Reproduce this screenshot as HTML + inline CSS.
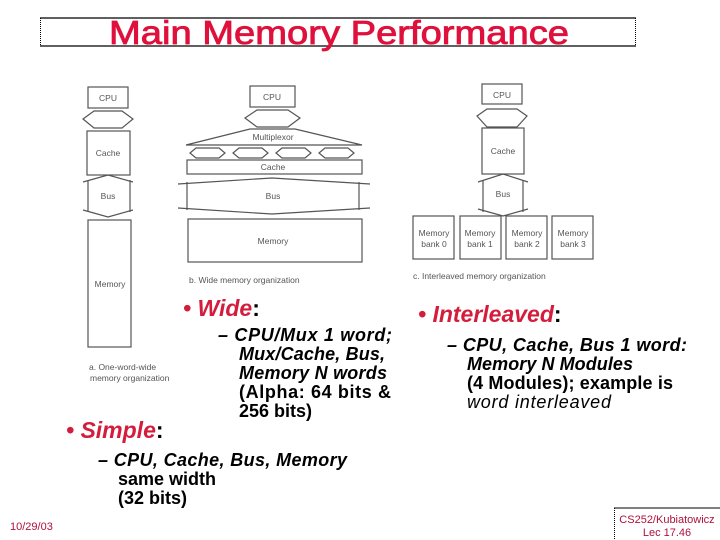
<!DOCTYPE html>
<html><head><meta charset="utf-8"><style>
html,body{margin:0;padding:0;background:#fff;width:720px;height:540px;overflow:hidden}
svg{display:block}
.d{fill:none;stroke:#555;stroke-width:1.2}
.g{font-family:"Liberation Sans",sans-serif;font-size:8.5px;fill:#555}
.t{font-family:"Liberation Sans",sans-serif;font-weight:bold;font-size:18px;fill:#000}
.h{font-family:"Liberation Sans",sans-serif;font-weight:bold;font-style:italic;font-size:23px;fill:#d41c3c}
</style></head><body>
<svg width="720" height="540" viewBox="0 0 720 540">
<line x1="40" y1="18" x2="636" y2="18" stroke="#000" stroke-width="1.2"/>
<line x1="40" y1="46" x2="636" y2="46" stroke="#000" stroke-width="1.2"/>
<line x1="40.5" y1="18" x2="40.5" y2="46" stroke="#000" stroke-dasharray="1,1"/>
<line x1="635.5" y1="18" x2="635.5" y2="46" stroke="#000" stroke-dasharray="1,1"/>
<text x="339" y="44" text-anchor="middle" font-family="Liberation Sans,sans-serif" font-size="33" stroke="#e0103c" stroke-width="0.8" fill="#e0103c" textLength="460" lengthAdjust="spacingAndGlyphs">Main Memory Performance</text>

<rect class="d" x="88" y="87" width="40" height="21"/><text class="g" x="108" y="101" text-anchor="middle">CPU</text>
<polygon class="d" points="83,119 94,111 122,111 133,119 122,128 94,128 83,119"/>
<rect class="d" x="87" y="131" width="43" height="44"/><text class="g" x="108" y="156" text-anchor="middle">Cache</text>
<polyline class="d" points="83,182 108,175 133,182"/><polyline class="d" points="83,210 108,217 133,210"/>
<line class="d" x1="88" y1="180" x2="88" y2="212"/><line class="d" x1="130" y1="180" x2="130" y2="212"/>
<text class="g" x="108" y="199" text-anchor="middle">Bus</text>
<rect class="d" x="88" y="220" width="43" height="127"/><text class="g" x="110" y="287" text-anchor="middle">Memory</text>
<text class="g" x="89" y="370">a. One-word-wide</text><text class="g" x="90" y="381">memory organization</text>

<rect class="d" x="250" y="86" width="45" height="21"/><text class="g" x="272" y="100" text-anchor="middle">CPU</text>
<polygon class="d" points="245,118 257,110 288,110 300,118 288,127 257,127"/>
<polygon class="d" points="186,145 250,129 295,129 362,145"/>
<text class="g" x="273" y="140" text-anchor="middle">Multiplexor</text>
<g class="d">
<polygon points="190,153 196,148 219,148 225,153 219,158 196,158"/>
<polygon points="233,153 239,148 262,148 268,153 262,158 239,158"/>
<polygon points="276,153 282,148 305,148 311,153 305,158 282,158"/>
<polygon points="319,153 325,148 348,148 354,153 348,158 325,158"/>
</g>
<rect class="d" x="187" y="160" width="175" height="14"/><text class="g" x="273" y="170" text-anchor="middle">Cache</text>
<polyline class="d" points="178,184 272,178 370,184"/><polyline class="d" points="178,208 272,214 370,208"/>
<line class="d" x1="187" y1="182" x2="187" y2="210"/><line class="d" x1="359" y1="182" x2="359" y2="210"/>
<text class="g" x="273" y="199" text-anchor="middle">Bus</text>
<rect class="d" x="188" y="219" width="174" height="43"/><text class="g" x="273" y="244" text-anchor="middle">Memory</text>
<text class="g" x="189" y="283">b. Wide memory organization</text>

<rect class="d" x="482" y="84" width="40" height="20"/><text class="g" x="502" y="98" text-anchor="middle">CPU</text>
<polygon class="d" points="477,116 487,109 517,109 527,116 517,127 487,127"/>
<rect class="d" x="482" y="128" width="42" height="46"/><text class="g" x="503" y="154" text-anchor="middle">Cache</text>
<polyline class="d" points="478,182 503,174 528,182"/><polyline class="d" points="478,209 503,216 528,209"/>
<line class="d" x1="483" y1="180" x2="483" y2="212"/><line class="d" x1="523" y1="180" x2="523" y2="212"/>
<text class="g" x="503" y="197" text-anchor="middle">Bus</text>
<g class="d"><rect x="413" y="216" width="41" height="43"/><rect x="460" y="216" width="41" height="43"/><rect x="506" y="216" width="41" height="43"/><rect x="552" y="216" width="41" height="43"/></g>
<g class="g" text-anchor="middle"><text x="434" y="236">Memory</text><text x="434" y="247">bank 0</text>
<text x="480" y="236">Memory</text><text x="480" y="247">bank 1</text>
<text x="527" y="236">Memory</text><text x="527" y="247">bank 2</text>
<text x="573" y="236">Memory</text><text x="573" y="247">bank 3</text></g>
<text class="g" x="413" y="279">c. Interleaved memory organization</text>

<text x="183" y="316" class="h">• Wide<tspan fill="#000" font-style="normal">:</tspan></text>
<text class="t" x="218" y="341" font-style="italic" textLength="174">– CPU/Mux 1 word;</text>
<text class="t" x="239" y="360" font-style="italic" textLength="146">Mux/Cache, Bus,</text>
<text class="t" x="239" y="379" font-style="italic" textLength="148">Memory N words</text>
<text class="t" x="239" y="398" textLength="152">(Alpha: 64 bits &amp;</text>
<text class="t" x="239" y="417">256 bits)</text>

<text x="418" y="322" class="h">• Interleaved<tspan fill="#000" font-style="normal">:</tspan></text>
<text class="t" x="447" y="351" font-style="italic" textLength="240">– CPU, Cache, Bus 1 word:</text>
<text class="t" x="467" y="370" font-style="italic" textLength="166">Memory N Modules</text>
<text class="t" x="467" y="389" textLength="206">(4 Modules); example is</text>
<text class="t" x="467" y="408" style="font-style:italic;font-weight:normal" textLength="144">word interleaved</text>

<text x="66" y="438" class="h">• Simple<tspan fill="#000" font-style="normal">:</tspan></text>
<text class="t" x="98" y="466" font-style="italic" textLength="249">– CPU, Cache, Bus, Memory</text>
<text class="t" x="118" y="485">same width</text>
<text class="t" x="118" y="504">(32 bits)</text>

<text x="10" y="530" font-family="Liberation Sans,sans-serif" font-size="11" fill="#b0103c">10/29/03</text>
<line x1="614" y1="508" x2="720" y2="508" stroke="#000"/>
<line x1="614.5" y1="508" x2="614.5" y2="540" stroke="#000" stroke-dasharray="1,1"/>
<text x="667" y="523" text-anchor="middle" font-family="Liberation Sans,sans-serif" font-size="11" fill="#b0103c">CS252/Kubiatowicz</text>
<text x="667" y="536" text-anchor="middle" font-family="Liberation Sans,sans-serif" font-size="11" fill="#b0103c">Lec 17.46</text>
</svg>
</body></html>
